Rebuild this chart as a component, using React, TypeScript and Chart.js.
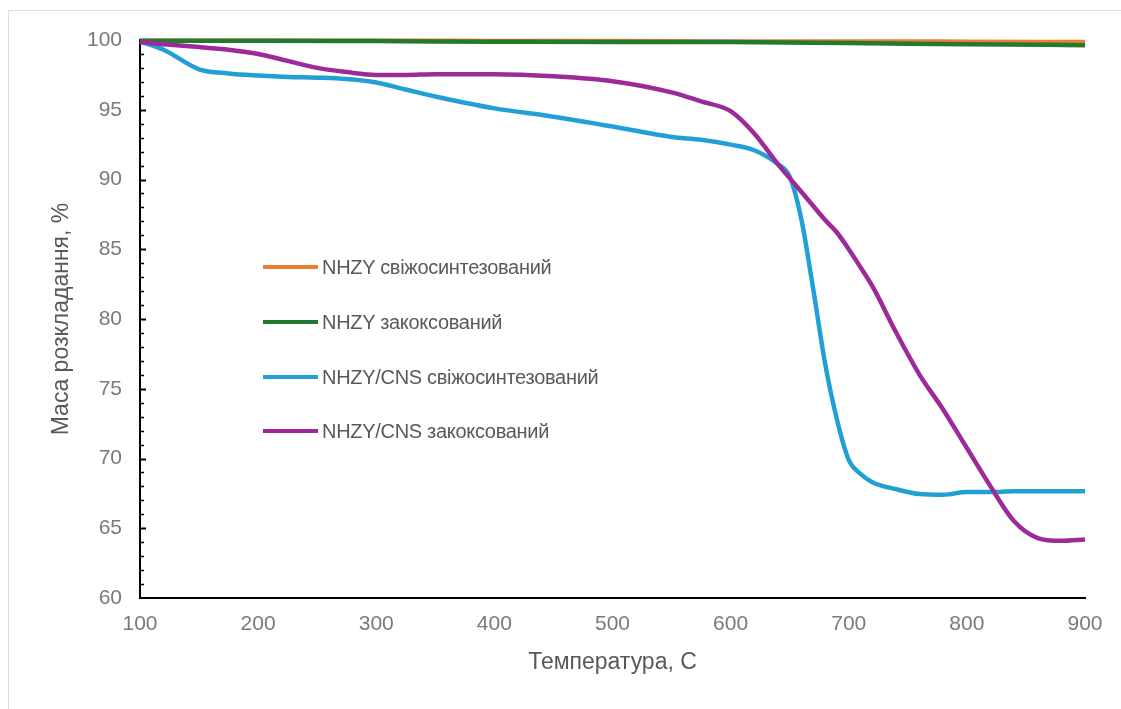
import React, { useEffect, useRef } from "react";
import { Chart, registerables } from "chart.js";

Chart.register(...registerables);

const seriesNames = [
  "NHZY свіжосинтезований",
  "NHZY закоксований",
  "NHZY/CNS свіжосинтезований",
  "NHZY/CNS закоксований",
];
const seriesColors = ["#ED7D31", "#237A2F", "#22A0D6", "#9C2A98"];

const xTickValues = [100, 200, 300, 400, 500, 600, 700, 800, 900];
const yTickValues = [60, 65, 70, 75, 80, 85, 90, 95, 100];

const freshTemp = [100, 200, 300, 400, 500, 600, 700, 800, 900];
const freshMass = [99.95, 99.95, 99.95, 99.93, 99.93, 99.9, 99.9, 99.88, 99.85];

const cokedTemp = [100, 200, 300, 400, 500, 600, 700, 800, 900];
const cokedMass = [99.95, 99.95, 99.92, 99.88, 99.85, 99.85, 99.78, 99.7, 99.63];

const cnsFreshTemp = [
  100, 120, 150, 175, 200, 225, 250, 275, 300, 325, 350, 375, 400, 450, 500,
  550, 575, 600, 620, 640, 650, 660, 670, 680, 690, 700, 710, 720, 740, 760,
  780, 800, 820, 840, 860, 880, 900,
];
const cnsFreshMass = [
  99.9, 99.3, 97.9, 97.6, 97.45, 97.35, 97.3, 97.2, 96.95, 96.45, 95.95, 95.5,
  95.1, 94.5, 93.8, 93.05, 92.85, 92.5, 92.1, 91.1, 90.2, 87.1, 82.1, 76.8,
  72.8, 69.9, 68.9, 68.3, 67.8, 67.45, 67.4, 67.6, 67.6, 67.65, 67.65, 67.65,
  67.65,
];

const cnsCokedTemp = [
  100, 120, 150, 175, 200, 225, 250, 275, 300, 325, 350, 375, 400, 450, 500,
  550, 575, 600, 620, 640, 650, 660, 670, 680, 690, 700, 710, 720, 740, 760,
  780, 800, 820, 840, 860, 880, 900,
];
const cnsCokedMass = [
  99.85, 99.7, 99.5, 99.3, 99.0, 98.5, 98.0, 97.7, 97.5, 97.5, 97.55, 97.55,
  97.55, 97.4, 97.05, 96.25, 95.6, 94.9, 93.3, 91.1, 90.1, 89.1, 88.1, 87.1,
  86.2, 85.0, 83.7, 82.35, 79.05, 76.0, 73.5, 70.75, 68.0, 65.5, 64.3, 64.1,
  64.2,
];

const yTitle = "Маса розкладання, %";
const xTitle = "Температура, С";

const FONT = "'Liberation Sans', Arial, sans-serif";

function pts(t: number[], m: number[]) {
  return t.map((x, i) => ({ x, y: m[i] }));
}

const minorTicks = {
  id: "minorTicks",
  afterDraw(chart: any) {
    const { ctx, chartArea, scales } = chart;
    const y = scales.y;
    ctx.save();
    ctx.strokeStyle = "#000";
    for (let v = 61; v < 100; v++) {
      const py = Math.round(y.getPixelForValue(v)) + 0.5;
      const major = v % 5 === 0;
      ctx.lineWidth = major ? 2 : 1.5;
      ctx.beginPath();
      ctx.moveTo(chartArea.left, py);
      ctx.lineTo(chartArea.left + (major ? 6 : 4), py);
      ctx.stroke();
    }
    ctx.restore();
  },
};

export default function App() {
  const ref = useRef<HTMLCanvasElement | null>(null);

  useEffect(() => {
    if (!ref.current) return;
    const datasets = [
      { t: freshTemp, m: freshMass, order: 3 },
      { t: cokedTemp, m: cokedMass, order: 2 },
      { t: cnsFreshTemp, m: cnsFreshMass, order: 1 },
      { t: cnsCokedTemp, m: cnsCokedMass, order: 0 },
    ].map((d, i) => ({
      label: seriesNames[i],
      data: pts(d.t, d.m),
      borderColor: seriesColors[i],
      backgroundColor: seriesColors[i],
      borderWidth: 4.5,
      pointRadius: 0,
      cubicInterpolationMode: "monotone" as const,
      clip: false as any,
      order: d.order,
    }));

    const chart = new Chart(ref.current, {
      type: "line",
      data: { datasets },
      plugins: [minorTicks],
      options: {
        responsive: false,
        animation: false,
        layout: { padding: { left: 0, top: 40, right: 36, bottom: 0 } },
        plugins: { legend: { display: false }, tooltip: { enabled: false } },
        scales: {
          x: {
            type: "linear",
            min: 100,
            max: 900,
            afterFit: (s: any) => {
              s.height = 111;
            },
            afterBuildTicks: (s: any) => {
              s.ticks = xTickValues.map((v) => ({ value: v }));
            },
            grid: { display: false, drawTicks: false },
            border: { display: true, color: "#000", width: 2 },
            ticks: {
              padding: 14,
              color: "#7a7a7a",
              font: { family: FONT, size: 21 },
            },
            title: {
              display: true,
              text: xTitle,
              color: "#595959",
              font: { family: FONT, size: 23 },
              padding: { top: 0, bottom: 33 },
            },
          },
          y: {
            type: "linear",
            min: 60,
            max: 100,
            afterFit: (s: any) => {
              s.width = 140;
            },
            afterBuildTicks: (s: any) => {
              s.ticks = yTickValues.map((v) => ({ value: v }));
            },
            grid: { display: false, drawTicks: false },
            border: { display: true, color: "#000", width: 2 },
            ticks: {
              padding: 18,
              color: "#7a7a7a",
              font: { family: FONT, size: 21 },
            },
            title: {
              display: true,
              text: yTitle,
              color: "#595959",
              font: { family: FONT, size: 23 },
              padding: { top: 48, bottom: 0 },
            },
          },
        },
      },
    });
    return () => chart.destroy();
  }, []);

  const legendRows = [267, 322, 377, 431];

  return (
    <div
      style={{
        position: "absolute",
        left: 0,
        top: 0,
        width: 1121,
        height: 709,
        background: "#fff",
        overflow: "hidden",
      }}
    >
      <div
        style={{
          position: "absolute",
          left: 8,
          top: 10,
          right: 0,
          bottom: 0,
          borderLeft: "1px solid #dcdcdc",
          borderTop: "1px solid #dcdcdc",
        }}
      />
      <canvas
        ref={ref}
        width={1121}
        height={709}
        style={{ position: "absolute", left: 0, top: 0, display: "block" }}
      />
      {seriesNames.map((name, i) => (
        <div key={name}>
          <div
            style={{
              position: "absolute",
              left: 263,
              top: legendRows[i] - 2,
              width: 55,
              height: 4,
              background: seriesColors[i],
            }}
          />
          <div
            style={{
              position: "absolute",
              left: 322,
              top: legendRows[i] - 13,
              height: 26,
              lineHeight: "26px",
              fontFamily: FONT,
              fontSize: 20,
              color: "#595959",
              whiteSpace: "nowrap",
              letterSpacing: "-0.3px",
            }}
          >
            {name}
          </div>
        </div>
      ))}
    </div>
  );
}
